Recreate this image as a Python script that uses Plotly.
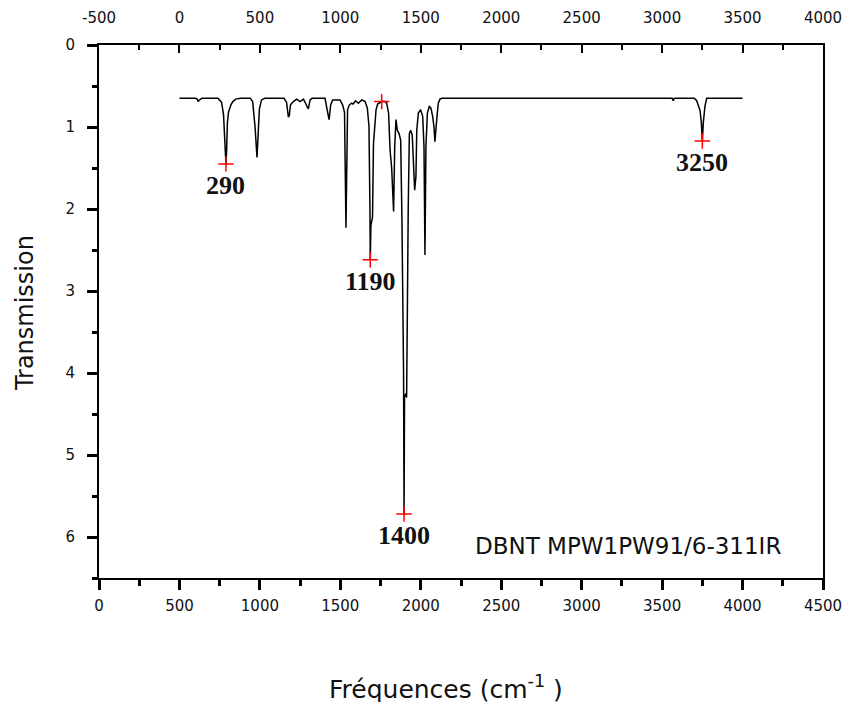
import plotly.graph_objects as go

# Spectrum (top-axis frequency in cm-1, transmission value)
freq = [0, 100, 110, 117, 124, 140, 240, 262, 274, 282, 289, 293, 298, 305, 312, 320, 332, 350, 380,
        440, 455, 470, 482, 490, 497, 510, 530,
        650, 666, 677, 683, 690, 700, 708, 729, 750, 771, 790, 801, 812, 825, 845,
        905, 919, 930, 940, 952, 998, 1014, 1026, 1035, 1045, 1056, 1070, 1080, 1095, 1112, 1133,
        1154, 1168, 1178, 1184, 1186, 1190, 1200, 1206, 1214, 1222, 1232, 1244, 1257, 1278, 1288,
        1300, 1309, 1319, 1325, 1331, 1338, 1346, 1354, 1365, 1375, 1383, 1393, 1396, 1399, 1406,
        1412, 1416, 1422, 1429, 1437, 1447, 1454, 1462, 1470, 1475, 1485, 1499, 1512, 1520, 1526,
        1532, 1541, 1553, 1563, 1574, 1582, 1588, 1599, 1609, 1619, 1630,
        3050, 3062, 3069, 3076, 3090, 3200, 3215, 3225, 3236, 3244, 3250, 3256, 3266, 3277, 3500]
trans = [0.65, 0.65, 0.66, 0.69, 0.67, 0.65, 0.65, 0.70, 0.85, 1.10, 1.45, 1.30, 0.95, 0.82, 0.76, 0.73, 0.69, 0.66, 0.65,
         0.65, 0.69, 1.00, 1.37, 0.95, 0.78, 0.67, 0.65,
         0.65, 0.70, 0.88, 0.86, 0.73, 0.70, 0.69, 0.66, 0.69, 0.66, 0.74, 0.78, 0.67, 0.65, 0.65,
         0.65, 0.80, 0.91, 0.73, 0.67, 0.67, 0.73, 0.82, 2.23, 0.79, 0.73, 0.71, 0.72, 0.68, 0.71, 0.67,
         0.69, 0.77, 0.99, 2.00, 2.62, 2.20, 2.10, 1.20, 0.95, 0.79, 0.72, 0.70, 0.69, 0.69, 0.71,
         0.83, 1.28, 1.50, 1.85, 2.03, 1.24, 0.91, 1.04, 1.08, 1.16, 2.13, 4.00, 5.72, 4.30, 4.25,
         4.30, 2.78, 1.99, 1.08, 1.04, 1.10, 1.44, 1.77, 1.60, 1.04, 0.83, 0.79, 0.87, 1.24, 2.56,
         1.24, 0.83, 0.75, 0.77, 0.87, 1.00, 1.18, 0.91, 0.71, 0.66, 0.65,
         0.65, 0.65, 0.68, 0.65, 0.65, 0.65, 0.68, 0.73, 0.80, 0.95, 1.17, 0.95, 0.75, 0.65, 0.65]

# Marked peaks
mark_freq = [289, 1186, 1257, 1396, 3250]
mark_trans = [1.45, 2.62, 0.69, 5.72, 1.17]
label_freq = [289, 1186, 1396, 3250]
label_trans = [1.45, 2.62, 5.72, 1.17]
label_text = ["290", "1190", "1400", "3250"]

bottom_ticks = [0, 500, 1000, 1500, 2000, 2500, 3000, 3500, 4000, 4500]
top_ticks = [-500, 0, 500, 1000, 1500, 2000, 2500, 3000, 3500, 4000]
top_tick_text = ["-500", "0", "500", "1000", "1500", "2000", "2500", "3000", "3500", "4000"]
y_ticks = [0, 1, 2, 3, 4, 5, 6]

tickfont = dict(family="DejaVu Sans", size=15, color="#111")

fig = go.Figure()
# dummy trace to keep the bottom axis subplot
fig.add_trace(go.Scatter(x=[None], y=[None], xaxis="x", yaxis="y", showlegend=False, hoverinfo="skip"))
fig.add_trace(go.Scatter(x=freq, y=trans, xaxis="x2", yaxis="y", mode="lines",
                         line=dict(color="black", width=1.5), showlegend=False))
fig.add_trace(go.Scatter(x=mark_freq, y=mark_trans, xaxis="x2", yaxis="y", mode="markers",
                         marker=dict(symbol="cross-thin", size=11, line=dict(color="red", width=1.5)),
                         showlegend=False))

for fx, fy, t in zip(label_freq, label_trans, label_text):
    fig.add_annotation(x=fx, y=fy, xref="x2", yref="y", text="<b>" + t + "</b>", showarrow=False,
                       xanchor="center", yanchor="top", yshift=-5,
                       font=dict(family="Liberation Serif", size=26, color="#111"))

fig.add_annotation(x=0.7307, y=0.060, xref="paper", yref="paper", text="DBNT MPW1PW91/6-311IR",
                   xanchor="center", yanchor="middle",
                   showarrow=False, font=dict(family="DejaVu Sans", size=23, color="#111"))
fig.add_annotation(x=-0.1022, y=0.497, xref="paper", yref="paper", text="Transmission",
                   xanchor="center", yanchor="middle",
                   textangle=-90, showarrow=False, font=dict(family="DejaVu Sans", size=24, color="#111"))
fig.add_annotation(x=0.479, y=-0.206, xref="paper", yref="paper", text="Fréquences (cm<sup>-1</sup> )",
                   xanchor="center", yanchor="middle",
                   showarrow=False, font=dict(family="DejaVu Sans", size=25, color="#111"))

# the page body adds an 8px margin; the figure is sized so that the plot lands where the reference has it
fig.update_layout(
    width=843, height=694,
    margin=dict(l=91, r=28, t=37, b=124),
    paper_bgcolor="white", plot_bgcolor="white",
    xaxis=dict(range=[0, 4500], tickvals=bottom_ticks, showgrid=False, zeroline=False, automargin=False,
               showline=True, linecolor="black", linewidth=2,
               ticks="outside", ticklen=10, tickwidth=3, tickcolor="black",
               minor=dict(ticks="outside", ticklen=6, tickwidth=3, tickcolor="black", dtick=250, tick0=0),
               tickfont=tickfont, ticklabelstandoff=3),
    xaxis2=dict(range=[-500, 4000], tickvals=top_ticks, ticktext=top_tick_text, overlaying="x", side="top",
                automargin=False,
                showgrid=False, zeroline=False, showline=True, linecolor="black", linewidth=2,
                ticks="inside", ticklen=8, tickwidth=2, tickcolor="black",
                minor=dict(ticks="inside", ticklen=5, tickwidth=2, tickcolor="black", dtick=250, tick0=0),
                tickfont=tickfont, ticklabelstandoff=14),
    yaxis=dict(range=[6.5, 0], tickvals=y_ticks, showgrid=False, zeroline=False, automargin=False,
               showline=True, linecolor="black", linewidth=2, mirror=True,
               ticks="outside", ticklen=10, tickwidth=3, tickcolor="black",
               minor=dict(ticks="outside", ticklen=5, tickwidth=3, tickcolor="black", dtick=0.5, tick0=0),
               tickfont=tickfont, ticklabelstandoff=9),
)

fig.write_html("out.html")
